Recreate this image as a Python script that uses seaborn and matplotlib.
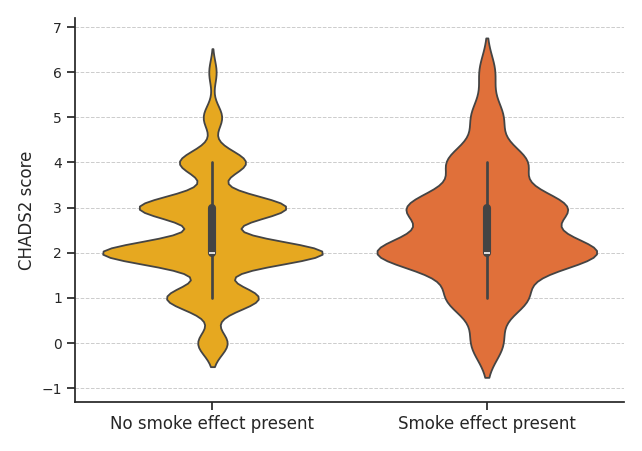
import numpy as np
import pandas as pd
import matplotlib
matplotlib.use("Agg")
import matplotlib.pyplot as plt
import seaborn as sns

sns.set_theme(style="ticks")
plt.rcParams['font.family'] = ['DejaVu Sans']

# CHADS2 scores and how many patients had each score, per group
scores = [0, 1, 2, 3, 4, 5, 6]
counts_no_smoke = [8, 25, 60, 40, 18, 5, 2]
counts_smoke = [2, 5, 14, 10, 5, 2, 1]
groups = ["No smoke effect present", "Smoke effect present"]
palette = ["#E6A820", "#E0703A"]

rows = []
for grp, counts in zip(groups, [counts_no_smoke, counts_smoke]):
    for s, c in zip(scores, counts):
        rows += [(grp, s)] * c
df = pd.DataFrame(rows, columns=["group", "CHADS2 score"])

fig, ax = plt.subplots(figsize=(6.42, 4.51), dpi=100)
sns.violinplot(data=df, x="group", y="CHADS2 score", hue="group",
               palette=palette, saturation=1, bw_adjust=0.6, linewidth=1.3,
               linecolor="#444444", inner="box", ax=ax, legend=False)

ax.set_xlabel("")
ax.set_ylabel("CHADS2 score", fontsize=12)
ax.set_yticks(range(-1, 8))
ax.set_ylim(-1.3, 7.2)
ax.tick_params(axis="x", labelsize=12)
ax.tick_params(axis="y", labelsize=10)
ax.yaxis.grid(True, linestyle="--", color="#cccccc", linewidth=0.7)
ax.set_axisbelow(True)
sns.despine(ax=ax)
plt.tight_layout()
plt.savefig("out.png", dpi=100)
